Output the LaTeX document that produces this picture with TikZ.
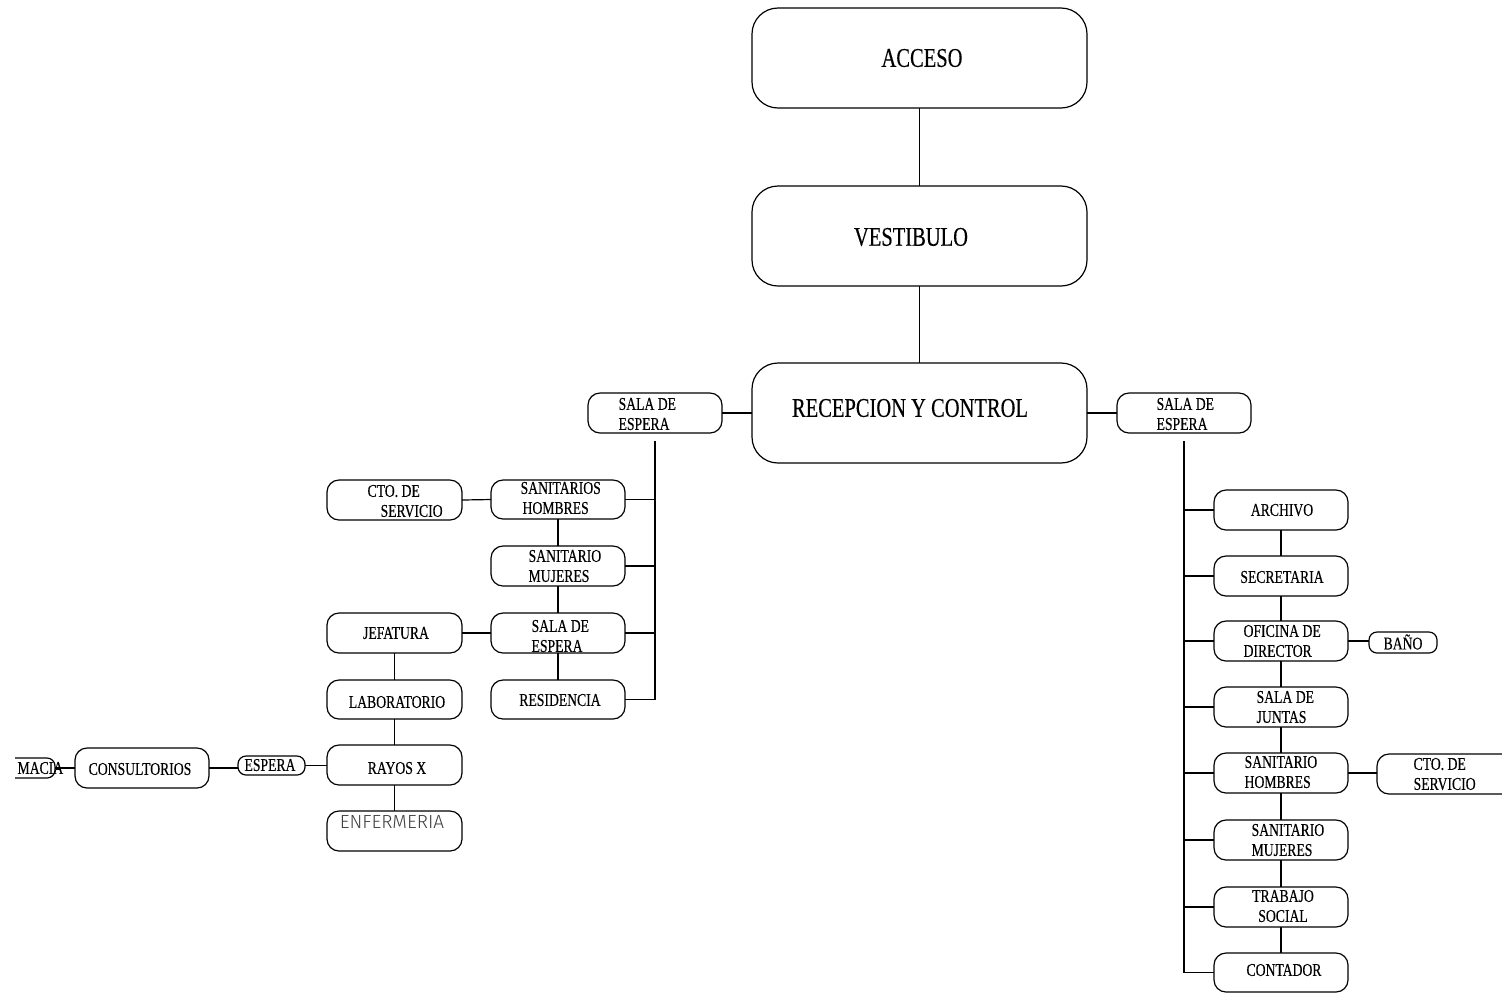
\documentclass[tikz,border=0pt]{standalone}
\usepackage{fontspec}
\setmainfont{Liberation Serif}[FakeStretch=0.76, FakeBold=0.3]
\newfontfamily\handfont{Fira Sans}[UprightFont=* Light]
\newcommand\mybox[6][]{\node[#1, minimum width={(#4-#2)*0.5pt}, minimum height={(#5-#3)*0.5pt}] (#6) at ({(#2+#4)/2},{(#3+#5)/2}) {};}
\begin{document}
\begin{tikzpicture}[x=0.5pt,y=-0.5pt,
  line width=0.6pt,
  bigbox/.style={draw, rounded corners=13pt, inner sep=0pt, outer sep=0pt},
  smallbox/.style={draw, rounded corners=6pt, inner sep=0pt, outer sep=0pt},
  tinybox/.style={draw, rounded corners=4pt, inner sep=0pt, outer sep=0pt},
  biglbl/.style={inner sep=0pt, font=\fontsize{13.5}{16}\selectfont},
  lbl/.style={inner sep=0pt, font=\fontsize{9}{10}\selectfont, align=left},
  clbl/.style={inner sep=0pt, font=\fontsize{9}{10}\selectfont, align=center}
]
\useasboundingbox (0,0) rectangle (1502,993);
\clip (0,0) rectangle (1502,993);

% main column
\mybox[bigbox]{752}{8}{1087}{108}{acceso}
\mybox[bigbox]{752}{186}{1087}{286}{vest}
\mybox[bigbox]{752}{363}{1087}{463}{recep}
\node[biglbl] (tacceso) at (922,58) {ACCESO};
\node[biglbl] (tvest) at (911,237) {VESTIBULO};
\node[biglbl] (trecep) at (910,408) {RECEPCION Y CONTROL};

% salas de espera
\mybox[smallbox]{588}{393}{722}{433}{lsala}
\mybox[smallbox]{1117}{393}{1251}{433}{rsala}
\node[lbl, anchor=west] (tlsala) at (618,414) {SALA DE\\ESPERA};
\node[lbl, anchor=west] (trsala) at (1156,414) {SALA DE\\ESPERA};

% left, inner column
\mybox[smallbox]{491}{480}{625}{519}{sanh}
\mybox[smallbox]{491}{546}{625}{586}{sanm}
\mybox[smallbox]{491}{613}{625}{653}{lsalb}
\mybox[smallbox]{491}{680}{625}{719}{resid}
\node[lbl, anchor=west] (tsanh) at (520,498) {SANITARIOS\\\hspace*{1pt}HOMBRES};
\node[lbl, anchor=west] (tsanm) at (528,566) {SANITARIO\\MUJERES};
\node[lbl, anchor=west] (tlsalb) at (531,636) {SALA DE\\ESPERA};
\node[clbl] (tresid) at (560,700) {RESIDENCIA};

% left, outer column
\mybox[smallbox]{327}{480}{462}{520}{ctol}
\mybox[smallbox]{327}{613}{462}{653}{jef}
\mybox[smallbox]{327}{680}{462}{719}{lab}
\mybox[smallbox]{327}{745}{462}{785}{rayos}
\mybox[smallbox]{327}{811}{462}{851}{enf}
\node[lbl, anchor=west] (tctol) at (367,501) {CTO. DE\\\hspace*{6.5pt}SERVICIO};
\node[clbl] (tjef) at (396,633) {JEFATURA};
\node[clbl] (tlab) at (397,702) {LABORATORIO};
\node[clbl] (trayos) at (397,768) {RAYOS X};
\node[inner sep=0pt, font=\handfont\fontsize{9.5}{10}\selectfont, text=black!75] (tenf) at (392,822) {ENFERMERIA};

% far left
\mybox[tinybox]{238}{756}{305}{775}{espera}
\mybox[smallbox]{75}{748}{209}{788}{consult}
\node[clbl] (tespera) at (270,765) {ESPERA};
\node[clbl] (tconsult) at (140,769) {CONSULTORIOS};
\begin{scope}
\clip (15,700) rectangle (80,820);
\mybox[tinybox]{-30}{758}{55}{778}{macia}
\end{scope}
\node[lbl, anchor=west] (tmacia) at (17,768) {MACIA};

% right column
\mybox[smallbox]{1214}{490}{1348}{530}{archivo}
\mybox[smallbox]{1214}{556}{1348}{596}{secre}
\mybox[smallbox]{1214}{621}{1348}{661}{ofic}
\mybox[smallbox]{1214}{687}{1348}{727}{juntas}
\mybox[smallbox]{1214}{753}{1348}{793}{sanhr}
\mybox[smallbox]{1214}{820}{1348}{860}{sanmr}
\mybox[smallbox]{1214}{887}{1348}{927}{trab}
\mybox[smallbox]{1214}{953}{1348}{992}{cont}
\node[clbl] (tarchivo) at (1282,510) {ARCHIVO};
\node[clbl] (tsecre) at (1282,577) {SECRETARIA};
\node[lbl, anchor=west] (tofic) at (1243,641) {OFICINA DE\\DIRECTOR};
\node[lbl, anchor=west] (tjuntas) at (1256,707) {SALA DE\\JUNTAS};
\node[lbl, anchor=west] (tsanhr) at (1244,772) {SANITARIO\\HOMBRES};
\node[lbl, anchor=west] (tsanmr) at (1251,840) {SANITARIO\\MUJERES};
\node[clbl] (ttrab) at (1283,906) {TRABAJO\\SOCIAL};
\node[clbl] (tcont) at (1284,970) {CONTADOR};

\mybox[tinybox]{1369}{632}{1437}{653}{bano}
\mybox[smallbox]{1377}{754}{1540}{794}{ctor}
\node[clbl] (tbano) at (1403,642) {BAÑO};
\node[lbl, anchor=west] (tctor) at (1413,774) {CTO. DE\\SERVICIO};

% connectors: main
\draw (acceso.south) -- (vest.north);
\draw (vest.south) -- (recep.north);
\draw (lsala.east) -- (recep.west |- lsala.east);
\draw (rsala.west) -- (recep.east |- rsala.west);

% left trunk
\coordinate (ltop) at ([yshift=-4pt]lsala.south);
\draw (ltop) |- (resid.east);
\draw (sanh.east) -- (sanh.east -| ltop);
\draw (sanm.east) -- (sanm.east -| ltop);
\draw (lsalb.east) -- (lsalb.east -| ltop);
\draw (sanh.south) -- (sanm.north);
\draw (sanm.south) -- (lsalb.north);
\draw (lsalb.south) -- (resid.north);
\draw (ctol.east) -- (sanh.west);
\draw (jef.east) -- (lsalb.west);
\draw (jef.south) -- (lab.north);
\draw (lab.south) -- (rayos.north);
\draw (rayos.south) -- (enf.north);
\draw (espera.east) -- (rayos.west |- espera.east);
\draw (consult.east) -- (consult.east -| espera.west);
\draw (macia.east) -- (consult.west);

% right trunk
\coordinate (rtop) at ([yshift=-4pt]rsala.south);
\draw (rtop) |- (cont.west);
\foreach \n in {archivo,secre,ofic,juntas,sanhr,sanmr,trab}
  \draw (\n.west) -- (\n.west -| rtop);
\draw (archivo.south) -- (secre.north);
\draw (secre.south) -- (ofic.north);
\draw (ofic.south) -- (juntas.north);
\draw (juntas.south) -- (sanhr.north);
\draw (sanhr.south) -- (sanmr.north);
\draw (sanmr.south) -- (trab.north);
\draw (trab.south) -- (cont.north);
\draw (ofic.east) -- (bano.west |- ofic.east);
\draw (sanhr.east) -- (ctor.west |- sanhr.east);
\end{tikzpicture}
\end{document}
